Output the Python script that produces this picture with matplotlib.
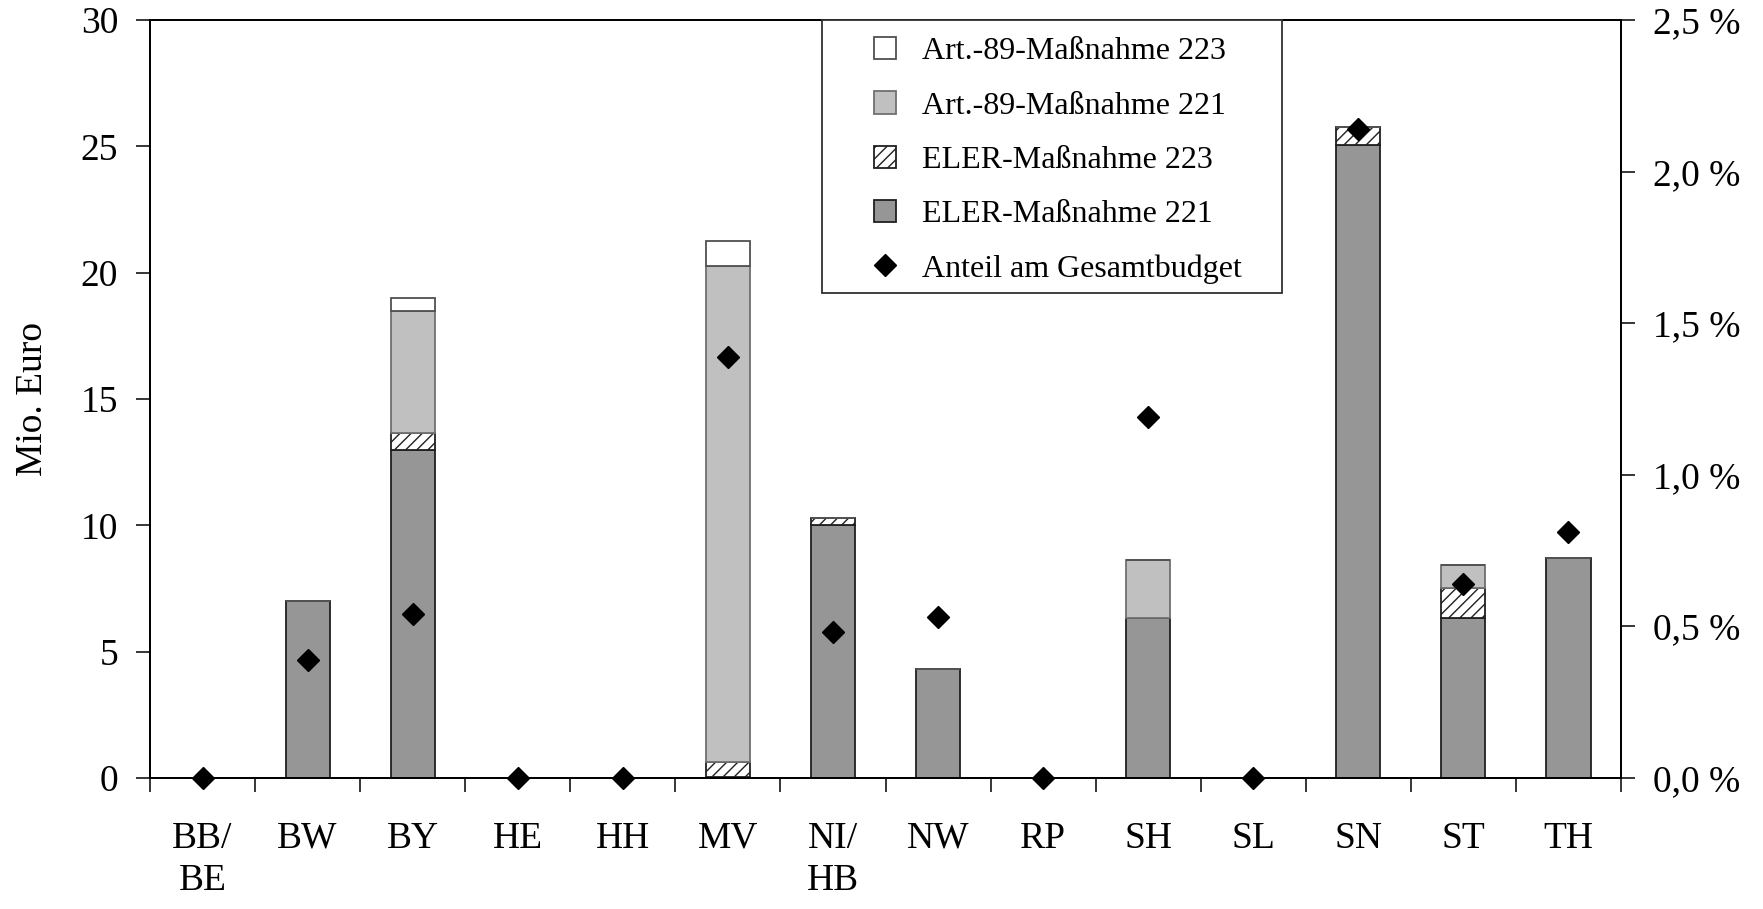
import matplotlib.pyplot as plt
from matplotlib.patches import Rectangle
import numpy as np

plt.rcParams['font.family'] = ['Liberation Serif', 'DejaVu Serif']
plt.rcParams['hatch.color'] = '#999999'
plt.rcParams['hatch.linewidth'] = 1.0

# Laender
laender = ["BB/\nBE", "BW", "BY", "HE", "HH", "MV", "NI/\nHB", "NW", "RP", "SH", "SL", "SN", "ST", "TH"]

# Mio. Euro, gestapelt
eler_221 = [0, 7.0, 13.0, 0, 0, 0.05, 10.0, 4.32, 0, 6.33, 0, 25.05, 6.33, 8.69]
eler_223 = [0, 0, 0.65, 0, 0, 0.6, 0.3, 0, 0, 0, 0, 0.72, 1.2, 0]
art89_221 = [0, 0, 4.85, 0, 0, 19.6, 0, 0, 0, 2.3, 0, 0, 0.9, 0]
art89_223 = [0, 0, 0.5, 0, 0, 1.0, 0, 0, 0, 0, 0, 0, 0, 0]

# Anteil am Gesamtbudget in %
anteil = [0.0, 0.39, 0.54, 0.0, 0.0, 1.39, 0.48, 0.53, 0.0, 1.19, 0.0, 2.14, 0.64, 0.81]

W, H = 1763, 909
x = np.arange(len(laender))
w = 0.42
fs = 27

fig = plt.figure(figsize=(W / 100, H / 100), dpi=100)
ax = fig.add_axes([150 / W, 1 - 778 / H, (1621 - 150) / W, (778 - 20) / H])

b1 = np.array(eler_221)
b2 = b1 + np.array(eler_223)
b3 = b2 + np.array(art89_221)

ec = '#202020'
h1 = ax.bar(x, eler_221, w, color='#969696', edgecolor=ec, linewidth=1.3)
h2 = ax.bar(x, eler_223, w, bottom=b1, color='white', edgecolor=ec, linewidth=1.3, hatch='///')
h3 = ax.bar(x, art89_221, w, bottom=b2, color='#c0c0c0', edgecolor='#707070', linewidth=1.3)
h4 = ax.bar(x, art89_223, w, bottom=b3, color='white', edgecolor='#505050', linewidth=1.3)

ax.set_xlim(-0.5, len(laender) - 0.5)
ax.set_ylim(0, 30)
ax.set_yticks(range(0, 31, 5))
ax.set_ylabel("Mio. Euro", fontsize=fs, labelpad=22)

ax.set_xticks(x)
ax.set_xticklabels(laender, fontsize=fs, va='top', linespacing=1.3)
ax.tick_params(axis='x', which='major', length=0, pad=31)
ax.set_xticks(np.arange(-0.5, len(laender), 1), minor=True)
ax.tick_params(axis='x', which='minor', length=10, width=1.1, direction='out')
ax.tick_params(axis='y', labelsize=fs, length=10, width=1.1, direction='out', pad=13)

for s in ax.spines.values():
    s.set_linewidth(1.3)
    s.set_color('black')

ax2 = ax.twinx()
ax2.set_ylim(0, 2.5)
pct = np.arange(0, 2.51, 0.5)
ax2.set_yticks(pct)
ax2.set_yticklabels([f"{v:.1f} %".replace('.', ',') for v in pct])
ax2.tick_params(axis='y', labelsize=fs, length=10, width=1.1, direction='out', pad=13)
for s in ax2.spines.values():
    s.set_linewidth(1.3)
h5, = ax2.plot(x, anteil, linestyle='none', marker='D', markersize=11.5, color='black',
               clip_on=False, zorder=5)

# Legendenrahmen separat, damit der Innenabstand stimmt
frame = Rectangle((822 / W, 1 - 293 / H), (1282 - 822) / W, (293 - 20) / H,
                  transform=fig.transFigure, facecolor='white', edgecolor='#303030',
                  linewidth=1.3, zorder=9)
fig.add_artist(frame)

leg = ax.legend([h4, h3, h2, h1, h5],
                ["Art.-89-Maßnahme 223", "Art.-89-Maßnahme 221", "ELER-Maßnahme 223",
                 "ELER-Maßnahme 221", "Anteil am Gesamtbudget"],
                loc='upper left', bbox_to_anchor=(874 / W, 1 - 37 / H),
                bbox_transform=fig.transFigure, fontsize=23, frameon=False,
                borderpad=0, labelspacing=0.78, handlelength=0.7, handleheight=0.7,
                handletextpad=0.8, borderaxespad=0)
leg.set_zorder(10)
fig.add_artist(leg)

fig.savefig("out.png", dpi=100)
